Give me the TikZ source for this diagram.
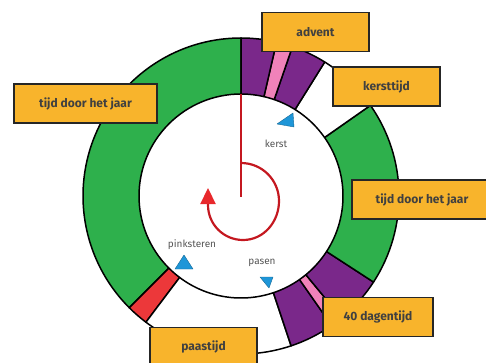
\documentclass[tikz,border=0pt]{standalone}
\usepackage{fontspec}
\setmainfont{Fira Sans}
\usepackage{tikz}
\usetikzlibrary{arrows.meta}
\definecolor{ringgreen}{RGB}{46,176,76}
\definecolor{ringpurple}{RGB}{122,40,138}
\definecolor{ringpink}{RGB}{240,130,185}
\definecolor{ringred}{RGB}{236,56,58}
\definecolor{seasonfill}{RGB}{248,180,44}
\definecolor{spokered}{RGB}{196,24,32}
\definecolor{tipred}{RGB}{232,40,44}
\definecolor{cueblue}{RGB}{30,150,216}
\definecolor{lbltext}{RGB}{85,85,85}

\begin{document}
\begin{tikzpicture}[
  x=1pt, y=1pt,
  seg/.style={draw=black, line width=1.5pt, line join=round},
  season/.style={draw=black!85, line width=1.3pt, fill=seasonfill, minimum height=39pt,
                 inner sep=2pt, font=\fontsize{12}{14}\selectfont\bfseries, text=black!75},
  feast/.style={font=\fontsize{10}{11}\selectfont, text=lbltext, inner sep=1pt},
  cue/.style={fill=cueblue, draw=cueblue!70!black, line width=0.4pt, line join=round},
  spoke/.style={draw=spokered, line width=2.2pt},
  turn/.style={draw=spokered, line width=2.2pt, -{Triangle[length=16pt,width=15pt,color=tipred]}},
]
\useasboundingbox (0,0) rectangle (486,362);

% ===================== ring of the church year =====================
\coordinate (ctr) at (241,166);

\foreach \from/\to/\col in {90/225/ringgreen, 225/233/ringred, 233/288.5/white,
    288.5/305/ringpurple, 305/309.5/ringpink, 309.5/327/ringpurple,
    327/395/ringgreen, 395/418/white,
    418/431/ringpurple, 431/437/ringpink, 437/450/ringpurple}
  \draw[seg, fill=\col]
    ([shift={(\from:158pt)}]ctr) arc[start angle=\from, end angle=\to, radius=158pt]
    -- ([shift={(\to:102pt)}]ctr) arc[start angle=\to, end angle=\from, radius=102pt]
    -- cycle;

% red spoke and turning arrow
\coordinate (spoketop) at (241,268);
\coordinate (hub)      at (241,165);
\draw[spoke] (spoketop) -- (hub);

\draw[turn] (241,199) to[out=0,in=90] (279,161) to[out=-90,in=0] (243,122)
  to[out=180,in=-90] (208,157) -- (208,174);

% feast markers
\draw[cue] (293,249) -- (277,238) -- (294,235) -- cycle;
\draw[cue] (184,107) -- (175,93) -- (193,93) -- cycle;
\draw[cue] (260,85) -- (273,85) -- (269,74) -- cycle;

\node[feast] (kerst)      at (276,218) {kerst};
\node[feast] (pinksteren) at (192,117) {pinksteren};
\node[feast] (pasen)      at (262,99)  {pasen};

% ===================== season labels =====================
\node[season, minimum width=107pt] (advent)     at (315.5,330)  {advent};
\node[season, minimum width=107pt] (kersttijd)  at (386.5,275.5) {kersttijd};
\node[season, minimum width=140pt] (jaarright)  at (422,162.5)  {tijd door het jaar};
\node[season, minimum width=110pt] (veertig)    at (378,45)     {40 dagentijd};
\node[season, minimum width=107pt] (paastijd)   at (203.5,15)   {paastijd};
\node[season, minimum width=143pt] (jaarleft)   at (85.5,258.5) {tijd door het jaar};

\end{tikzpicture}
\end{document}
